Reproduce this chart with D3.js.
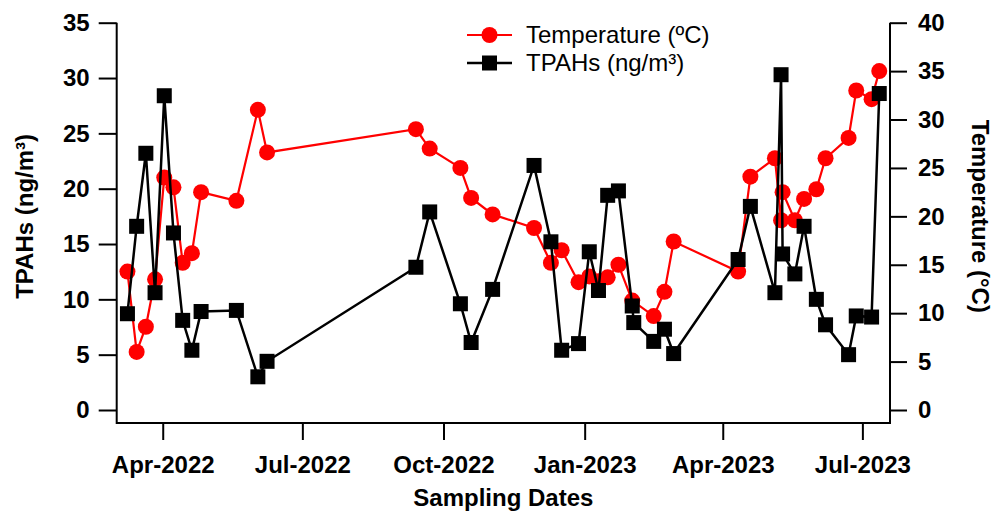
<!DOCTYPE html>
<html>
<head>
<meta charset="utf-8">
<script src="https://cdn.jsdelivr.net/npm/d3@7"></script>
<style>
  html, body { margin: 0; padding: 0; background: #fff; }
  svg { display: block; font-family: "Liberation Sans", Arial, sans-serif; }
</style>
</head>
<body>
<svg id="chart" width="997" height="513"></svg>
<script>
// Sampling dates shared by both series
const sampleDates = [
  "2022-03-09","2022-03-15","2022-03-21","2022-03-27","2022-04-02","2022-04-08",
  "2022-04-14","2022-04-20","2022-04-26","2022-05-19","2022-06-02","2022-06-08",
  "2022-09-13","2022-09-22","2022-10-12","2022-10-19","2022-11-02","2022-11-29",
  "2022-12-10","2022-12-17","2022-12-28","2023-01-04","2023-01-10","2023-01-16",
  "2023-01-23","2023-02-01","2023-02-02","2023-02-15","2023-02-22","2023-02-28",
  "2023-04-11","2023-04-19","2023-05-05","2023-05-09","2023-05-10","2023-05-18",
  "2023-05-24","2023-06-01","2023-06-07","2023-06-22","2023-06-27","2023-07-07",
  "2023-07-12"
];

// Total PAHs (ng/m³), left axis
const tpahValues = [
  8.7, 16.6, 23.2, 10.6, 28.4, 16.0,
  8.1, 5.4, 8.9, 9.0, 3.0, 4.4,
  12.9, 17.9, 9.6, 6.1, 10.9, 22.1,
  15.2, 5.4, 6.0, 14.3, 10.8, 19.4,
  19.8, 9.4, 7.9, 6.2, 7.3, 5.1,
  13.6, 18.4, 10.6, 30.3, 14.1, 12.3,
  16.6, 10.0, 7.7, 5.0, 8.5, 8.4,
  28.6
];

// Air temperature (°C), right axis; null where no reading was taken
const tempValues = [
  14.3, 6.0, 8.6, 13.5, 24.0, 23.0,
  15.2, 16.2, 22.5, 21.6, 31.0, 26.6,
  29.0, 27.0, 25.0, 21.9, 20.2, 18.8,
  15.2, 16.5, 13.2, 13.8, 13.3, 13.7,
  15.0, 11.3, null, 9.7, 12.2, 17.4,
  14.3, 24.1, 26.0, 19.6, 22.5, 19.6,
  21.8, 22.8, 26.0, 28.1, 33.0, 32.1,
  35.0
];

const xTickDates = ["2022-04-01","2022-07-01","2022-10-01","2023-01-01","2023-04-01","2023-07-01"];
const leftTicks = [0, 5, 10, 15, 20, 25, 30, 35];
const rightTicks = [0, 5, 10, 15, 20, 25, 30, 35, 40];

const parse = d3.utcParse("%Y-%m-%d");
const fmt = d3.utcFormat("%b-%Y");

const svg = d3.select("#chart");
const frame = { left: 116.7, right: 890, top: 22.7, zero: 410, bottom: 423 };

const x = d3.scaleUtc()
  .domain([parse("2022-03-02"), parse("2023-07-19")])
  .range([frame.left, frame.right]);
const yL = d3.scaleLinear().domain([0, 35]).range([frame.zero, frame.top]);
const yR = d3.scaleLinear().domain([0, 40]).range([frame.zero, frame.top]);

const rows = sampleDates.map((d, i) => ({ date: parse(d), tpah: tpahValues[i], temp: tempValues[i] }));
const tempRows = rows.filter(r => r.temp != null);

const tickFont = g => g.selectAll("text")
  .attr("font-size", 24).attr("font-weight", "bold")
  .attr("font-family", "'Liberation Sans', Arial, sans-serif").attr("fill", "#000");

// Axes (ticks only; frame lines drawn separately)
const gx = svg.append("g").attr("transform", `translate(0,${frame.bottom})`)
  .call(d3.axisBottom(x).tickValues(xTickDates.map(parse)).tickFormat(fmt).tickSize(17).tickPadding(16));
gx.select(".domain").remove();
gx.selectAll(".tick line").attr("stroke", "#000").attr("stroke-width", 2);
tickFont(gx);

const gl = svg.append("g").attr("transform", `translate(${frame.left},0)`)
  .call(d3.axisLeft(yL).tickValues(leftTicks).tickSize(18).tickPadding(9));
gl.select(".domain").remove();
gl.selectAll(".tick line").attr("stroke", "#000").attr("stroke-width", 2);
tickFont(gl);

const gr = svg.append("g").attr("transform", `translate(${frame.right},0)`)
  .call(d3.axisRight(yR).tickValues(rightTicks).tickSize(17).tickPadding(11));
gr.select(".domain").remove();
gr.selectAll(".tick line").attr("stroke", "#000").attr("stroke-width", 2);
tickFont(gr);

// Frame: left, bottom, right
svg.append("path")
  .attr("d", `M${frame.left},${frame.top}V${frame.bottom}H${frame.right}V${frame.top}`)
  .attr("fill", "none").attr("stroke", "#000").attr("stroke-width", 2);

// Temperature series
const tempLine = d3.line().x(d => x(d.date)).y(d => yR(d.temp));
svg.append("path").datum(tempRows)
  .attr("d", tempLine).attr("fill", "none").attr("stroke", "#ff0000").attr("stroke-width", 2.2);
svg.append("g").selectAll("circle").data(tempRows).join("circle")
  .attr("cx", d => x(d.date)).attr("cy", d => yR(d.temp)).attr("r", 8).attr("fill", "#ff0000");

// TPAHs series
const tpahLine = d3.line().x(d => x(d.date)).y(d => yL(d.tpah));
svg.append("path").datum(rows)
  .attr("d", tpahLine).attr("fill", "none").attr("stroke", "#000").attr("stroke-width", 2.5);
const sq = 15;
svg.append("g").selectAll("rect").data(rows).join("rect")
  .attr("x", d => x(d.date) - sq / 2).attr("y", d => yL(d.tpah) - sq / 2)
  .attr("width", sq).attr("height", sq).attr("fill", "#000");

// Axis titles
svg.append("text").attr("x", (frame.left + frame.right) / 2).attr("y", 506)
  .attr("text-anchor", "middle").attr("font-size", 24).attr("font-weight", "bold")
  .text("Sampling Dates");
svg.append("text").attr("transform", `translate(33,${(frame.top + frame.zero) / 2}) rotate(-90)`)
  .attr("text-anchor", "middle").attr("font-size", 24).attr("font-weight", "bold")
  .text("TPAHs (ng/m³)");
svg.append("text").attr("transform", `translate(972,${(frame.top + frame.zero) / 2}) rotate(90)`)
  .attr("text-anchor", "middle").attr("font-size", 24).attr("font-weight", "bold")
  .text("Temperature (°C)");

// Legend
const legend = svg.append("g");
legend.append("line").attr("x1", 467).attr("x2", 512).attr("y1", 35).attr("y2", 35)
  .attr("stroke", "#ff0000").attr("stroke-width", 2.2);
legend.append("circle").attr("cx", 489.5).attr("cy", 35).attr("r", 8).attr("fill", "#ff0000");
legend.append("text").attr("x", 526).attr("y", 43).attr("font-size", 24).text("Temperature (ºC)");
legend.append("line").attr("x1", 467).attr("x2", 512).attr("y1", 63).attr("y2", 63)
  .attr("stroke", "#000").attr("stroke-width", 2.5);
legend.append("rect").attr("x", 489.5 - sq / 2).attr("y", 63 - sq / 2)
  .attr("width", sq).attr("height", sq).attr("fill", "#000");
legend.append("text").attr("x", 526).attr("y", 71).attr("font-size", 24).text("TPAHs (ng/m³)");
</script>
</body>
</html>
